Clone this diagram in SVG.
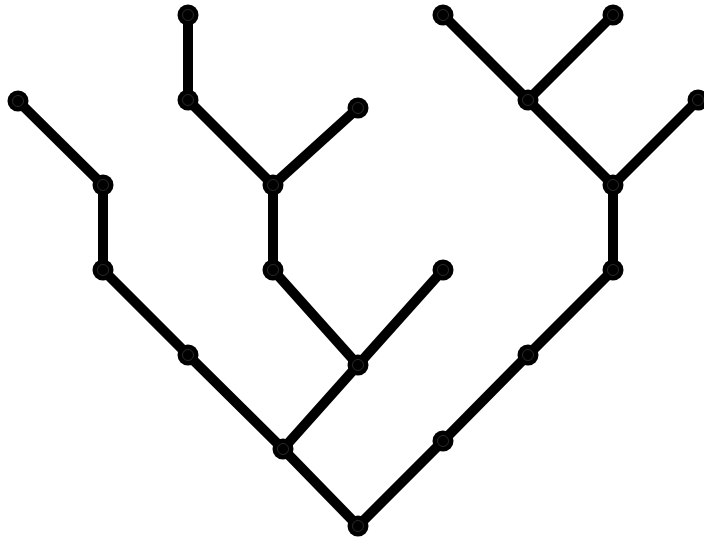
<svg xmlns="http://www.w3.org/2000/svg" width="704" height="537" viewBox="0 0 704 537">
<style>
.e{stroke:#000;stroke-width:10;fill:none;stroke-linecap:round}
.n{fill:#000}
.r{fill:none;stroke:#444;stroke-width:0.6}
</style>
<defs>
<g id="nd"><circle class="n" r="10.5"/><circle class="r" r="5.5"/></g>
</defs>
<rect width="704" height="537" fill="#fff"/>
<g id="edges">
<line class="e" x1="358" y1="526" x2="283" y2="449"/>
<line class="e" x1="358" y1="526" x2="443" y2="441"/>
<line class="e" x1="283" y1="449" x2="188" y2="355"/>
<line class="e" x1="188" y1="355" x2="103" y2="270"/>
<line class="e" x1="103" y1="270" x2="103" y2="185"/>
<line class="e" x1="103" y1="185" x2="18" y2="101"/>
<line class="e" x1="283" y1="449" x2="358" y2="365"/>
<line class="e" x1="358" y1="365" x2="273" y2="270"/>
<line class="e" x1="358" y1="365" x2="443" y2="270"/>
<line class="e" x1="273" y1="270" x2="273" y2="185"/>
<line class="e" x1="273" y1="185" x2="188" y2="100"/>
<line class="e" x1="188" y1="100" x2="188" y2="15"/>
<line class="e" x1="273" y1="185" x2="358" y2="108"/>
<line class="e" x1="443" y1="441" x2="528" y2="355"/>
<line class="e" x1="528" y1="355" x2="613" y2="270"/>
<line class="e" x1="613" y1="270" x2="613" y2="185"/>
<line class="e" x1="613" y1="185" x2="528" y2="100"/>
<line class="e" x1="528" y1="100" x2="443" y2="15"/>
<line class="e" x1="528" y1="100" x2="613" y2="15"/>
<line class="e" x1="613" y1="185" x2="698" y2="100"/>
</g>
<g id="n1"><use href="#nd" x="358" y="526"/></g>
<g id="n2"><use href="#nd" x="283" y="449"/></g>
<g id="n3"><use href="#nd" x="443" y="441"/></g>
<g id="n4"><use href="#nd" x="188" y="355"/></g>
<g id="n5"><use href="#nd" x="103" y="270"/></g>
<g id="n6"><use href="#nd" x="103" y="185"/></g>
<g id="n7"><use href="#nd" x="18" y="101"/></g>
<g id="n8"><use href="#nd" x="358" y="365"/></g>
<g id="n9"><use href="#nd" x="273" y="270"/></g>
<g id="n10"><use href="#nd" x="443" y="270"/></g>
<g id="n11"><use href="#nd" x="273" y="185"/></g>
<g id="n12"><use href="#nd" x="188" y="100"/></g>
<g id="n13"><use href="#nd" x="188" y="15"/></g>
<g id="n14"><use href="#nd" x="358" y="108"/></g>
<g id="n15"><use href="#nd" x="528" y="355"/></g>
<g id="n16"><use href="#nd" x="613" y="270"/></g>
<g id="n17"><use href="#nd" x="613" y="185"/></g>
<g id="n18"><use href="#nd" x="528" y="100"/></g>
<g id="n19"><use href="#nd" x="443" y="15"/></g>
<g id="n20"><use href="#nd" x="613" y="15"/></g>
<g id="n21"><use href="#nd" x="698" y="100"/></g>
</svg>
